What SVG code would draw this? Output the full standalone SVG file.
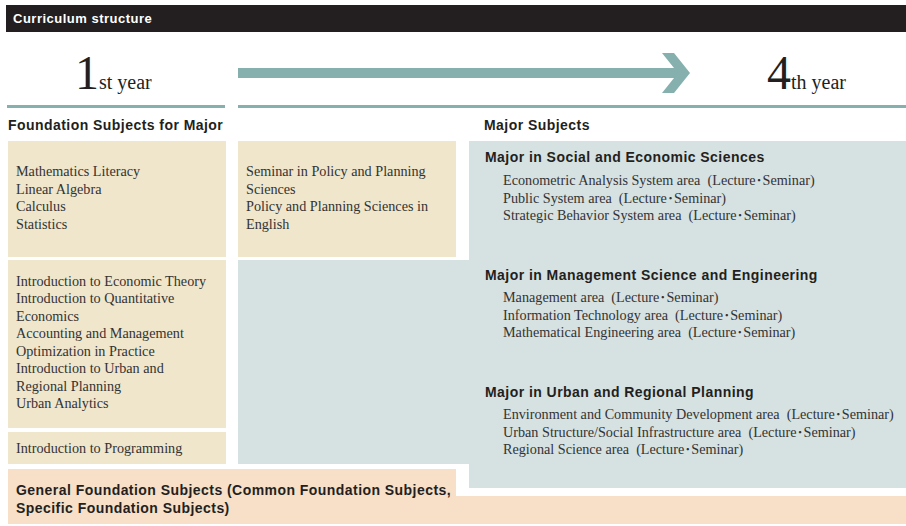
<svg xmlns="http://www.w3.org/2000/svg" width="906" height="526" viewBox="0 0 906 526">
<style>
.bg{fill:#ffffff}
.beige{fill:#efe6cc}
.grey{fill:#d6e1e2}
.orange{fill:#f7dfc8}
.teal{fill:#86b0ae}
.sans{font-family:"Liberation Sans",Arial,sans-serif;font-weight:bold;font-size:14px;letter-spacing:0.45px;fill:#231f20}
.serif{font-family:"Liberation Serif","Noto Sans CJK JP",serif;font-size:14.2px;fill:#333333}
.year{font-family:"Liberation Serif",serif;fill:#231f20}
</style>
<rect class="bg" x="0" y="0" width="906" height="526"/>
<g id="header">
<rect x="6" y="5" width="900" height="27" fill="#231f20"/>
<text x="13" y="23" font-family="Liberation Sans, Arial, sans-serif" font-weight="bold" font-size="13" letter-spacing="0.5" fill="#ffffff">Curriculum structure</text>
</g>
<g id="year1">
<text class="year" x="75" y="89" font-size="48">1</text>
<text class="year" x="99" y="89" font-size="20">st year</text>
</g>
<g id="year4">
<text class="year" x="767" y="89" font-size="48">4</text>
<text class="year" x="791" y="89" font-size="20">th year</text>
</g>
<g id="connectors">
<rect class="teal" x="238" y="68" width="440" height="10"/>
<polygon class="teal" points="662,53 674,53 690,73 674,93 662,93 678,73"/>
</g>
<g id="rules">
<rect class="teal" x="7" y="105" width="218" height="3"/>
<rect class="teal" x="238" y="105" width="668" height="3"/>
</g>
<g id="labels">
<text class="sans" x="8" y="130">Foundation Subjects for Major</text>
<text class="sans" x="484" y="130">Major Subjects</text>
</g>
<g id="box-math">
<rect class="beige" x="8" y="141" width="218" height="116"/>
<text class="serif" x="16" y="176">Mathematics Literacy</text>
<text class="serif" x="16" y="193.5">Linear Algebra</text>
<text class="serif" x="16" y="211">Calculus</text>
<text class="serif" x="16" y="228.5">Statistics</text>
</g>
<g id="box-seminar">
<rect class="beige" x="238" y="141" width="218" height="116"/>
<text class="serif" x="246" y="176">Seminar in Policy and Planning</text>
<text class="serif" x="246" y="193.5">Sciences</text>
<text class="serif" x="246" y="211">Policy and Planning Sciences in</text>
<text class="serif" x="246" y="228.5">English</text>
</g>
<g id="box-intro">
<rect class="beige" x="8" y="260" width="218" height="168"/>
<text class="serif" x="16" y="285.5">Introduction to Economic Theory</text>
<text class="serif" x="16" y="303">Introduction to Quantitative</text>
<text class="serif" x="16" y="320.5">Economics</text>
<text class="serif" x="16" y="338">Accounting and Management</text>
<text class="serif" x="16" y="355.5">Optimization in Practice</text>
<text class="serif" x="16" y="373">Introduction to Urban and</text>
<text class="serif" x="16" y="390.5">Regional Planning</text>
<text class="serif" x="16" y="408">Urban Analytics</text>
</g>
<g id="box-programming">
<rect class="beige" x="8" y="432" width="218" height="32"/>
<text class="serif" x="16" y="453">Introduction to Programming</text>
</g>
<g id="box-major">
<rect class="grey" x="238" y="260" width="232" height="204"/>
<rect class="grey" x="469" y="141" width="437" height="347"/>
<text class="sans" x="485" y="162">Major in Social and Economic Sciences</text>
<text class="serif" x="503" y="185">Econometric Analysis System area&#160; (Lecture･Seminar)</text>
<text class="serif" x="503" y="202.5">Public System area&#160; (Lecture･Seminar)</text>
<text class="serif" x="503" y="220">Strategic Behavior System area&#160; (Lecture･Seminar)</text>
<text class="sans" x="485" y="280">Major in Management Science and Engineering</text>
<text class="serif" x="503" y="302">Management area&#160; (Lecture･Seminar)</text>
<text class="serif" x="503" y="319.5">Information Technology area&#160; (Lecture･Seminar)</text>
<text class="serif" x="503" y="337">Mathematical Engineering area&#160; (Lecture･Seminar)</text>
<text class="sans" x="485" y="397">Major in Urban and Regional Planning</text>
<text class="serif" x="503" y="419">Environment and Community Development area&#160; (Lecture･Seminar)</text>
<text class="serif" x="503" y="436.5">Urban Structure/Social Infrastructure area&#160; (Lecture･Seminar)</text>
<text class="serif" x="503" y="454">Regional Science area&#160; (Lecture･Seminar)</text>
</g>
<g id="box-general">
<path class="orange" d="M8,469 H456 V496 H906 V524 H8 Z"/>
<text class="sans" x="16" y="495">General Foundation Subjects (Common Foundation Subjects,</text>
<text class="sans" x="16" y="513">Specific Foundation Subjects)</text>
</g>
</svg>
